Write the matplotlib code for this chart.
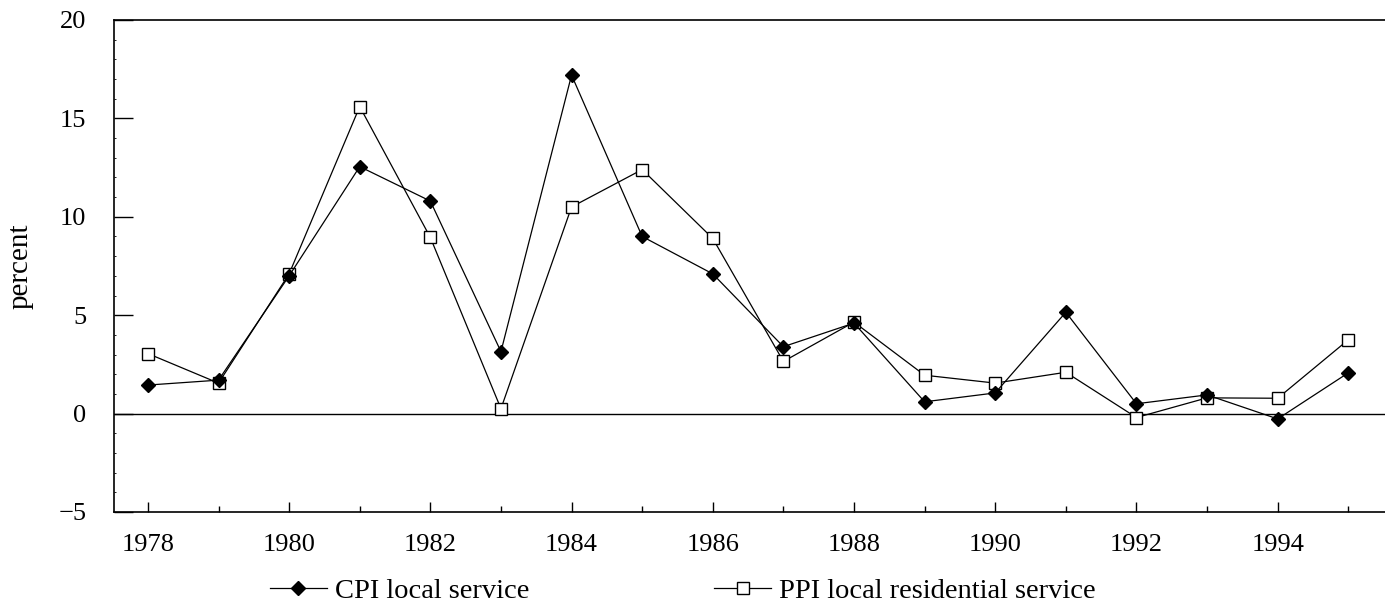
import matplotlib
matplotlib.use("Agg")
import matplotlib.pyplot as plt
from matplotlib.ticker import MultipleLocator

# years and the two series
years = list(range(1978, 1996))
cpi_local = [1.45, 1.7, 7.0, 12.55, 10.8, 3.15, 17.2, 9.0, 7.1, 3.4, 4.6, 0.6, 1.05, 5.15, 0.5, 0.95, -0.27, 2.07]
ppi_residential = [3.05, 1.55, 7.1, 15.6, 8.95, 0.25, 10.5, 12.4, 8.9, 2.65, 4.65, 1.95, 1.55, 2.1, -0.2, 0.8, 0.78, 3.75]

plt.rcParams["font.family"] = ["Liberation Serif", "DejaVu Serif"]

fig = plt.figure(figsize=(13.85, 6.03), dpi=100)
ax = fig.add_axes([114 / 1385, 1 - 512 / 603, (1385 - 114) / 1385, (512 - 20) / 603])

ax.plot(years, cpi_local, color="black", lw=0.9, marker="D", markersize=7.5,
        markerfacecolor="black", markeredgecolor="black", label="CPI local service", zorder=3)
ax.plot(years, ppi_residential, color="black", lw=0.9, marker="s", markersize=8.5,
        markerfacecolor="white", markeredgecolor="black", markeredgewidth=1.0,
        label="PPI local residential service", zorder=2)
ax.axhline(0, color="black", lw=1.0, zorder=1)

ax.set_xlim(1977.52, 1995.52)
ax.set_ylim(-5, 20)
ax.xaxis.set_major_locator(MultipleLocator(2))
ax.xaxis.set_minor_locator(MultipleLocator(1))
ax.yaxis.set_major_locator(MultipleLocator(5))
ax.yaxis.set_minor_locator(MultipleLocator(1))
ax.tick_params(axis="x", which="major", direction="in", length=7, width=1, labelsize=19, pad=16)
ax.tick_params(axis="x", which="minor", direction="in", length=4, width=1)
ax.tick_params(axis="y", which="major", direction="in", length=14, width=1, labelsize=19, pad=20)
ax.tick_params(axis="y", which="minor", direction="in", length=1.5, width=0.6)
ax.set_ylabel("percent", fontsize=21)
ax.yaxis.set_label_coords(-0.063, 0.5)

ax.spines["right"].set_visible(False)
for s in ["left", "top", "bottom"]:
    ax.spines[s].set_linewidth(1.2)

fig.legend(loc="center left", bbox_to_anchor=(270 / 1385, 1 - 591 / 603), ncol=2, frameon=False,
           fontsize=20.5, handlelength=2.0, handletextpad=0.28, columnspacing=6.5,
           borderpad=0, borderaxespad=0)

fig.savefig("out.png", dpi=100)
